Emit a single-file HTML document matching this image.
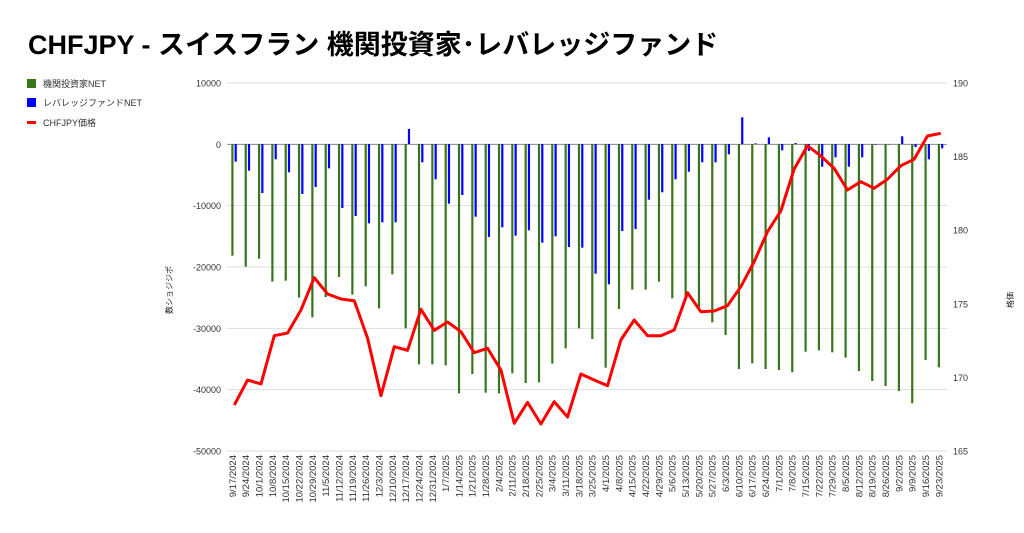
<!DOCTYPE html>
<html><head><meta charset="utf-8"><style>
body{margin:0;background:#fff;width:1024px;height:533px;overflow:hidden}
svg{display:block;font-family:"Liberation Sans","Noto Sans CJK JP",sans-serif}
</style></head><body>
<svg id="s" width="1024" height="533" xmlns="http://www.w3.org/2000/svg">
<text x="28" y="54" font-size="27" font-weight="bold" fill="#000">CHFJPY - スイスフラン 機関投資家･レバレッジファンド</text>
<rect x="27" y="79" width="9" height="9" fill="#38761d"/>
<text x="43" y="87" font-size="9" fill="#333">機関投資家NET</text>
<rect x="27" y="98" width="9" height="9" fill="#0000ff"/>
<text x="43" y="106" font-size="9" fill="#333">レバレッジファンドNET</text>
<rect x="27" y="121" width="9" height="3" fill="#ff0000"/>
<text x="43" y="126" font-size="9" fill="#333">CHFJPY価格</text>
<text transform="translate(172,290) rotate(-90)" font-size="8" text-anchor="middle" fill="#222">数ショジジポ</text>
<text transform="translate(1013,300) rotate(-90)" font-size="8" text-anchor="middle" fill="#222">格価</text>
<g id="g"></g>
</svg>
<script>
var g=document.getElementById('g'),h='';
var Y=function(z){return z/3+75};
for(var k=0;k<=6;k++){var y=83+k*61.33;h+='<line x1="227" x2="947" y1="'+y+'" y2="'+y+'" stroke="'+(k==1?'#888':'#ddd')+'" stroke-width="1"/>';
h+='<text x="221" y="'+(y+3.5)+'" font-size="9" text-anchor="end" fill="#333">'+(10000-k*10000)+'</text>';}
for(var k=0;k<=5;k++){var y=83+k*73.6;h+='<text x="953" y="'+(y+3.5)+'" font-size="9" fill="#333">'+(190-k*5)+'</text>';}
var G=[542,575,551,620,617,668,727,666,606,659,634,700,598,760,868,868,871,955,897,953,955,895,924,922,866,820,760,
792,878,702,644,644,620,670,675,696,742,780,882,865,882,885,892,830,826,832,848,888,918,933,948,985,855,877];
var B=[260,287,354,253,292,357,336,280,399,423,445,442,442,162,262,313,386,360,425,486,457,482,466,503,484,516,518,
596,628,468,462,374,352,313,290,262,262,238,127,205,187,226,204,228,275,247,275,247,209,208,184,216,253,220];
var R=[990,915,927,782,774,705,608,657,672,677,790,962,815,826,703,766,741,770,833,820,885,1045,982,1047,980,1026,897,
915,932,795,735,782,782,765,653,710,708,692,635,560,470,408,282,212,243,280,345,320,340,313,272,253,183,175];
var d=['9/17/2024','9/24/2024','10/1/2024','10/8/2024','10/15/2024','10/22/2024','10/29/2024','11/5/2024','11/12/2024','11/19/2024','11/26/2024','12/3/2024','12/10/2024','12/17/2024','12/24/2024','12/31/2024','1/7/2025','1/14/2025','1/21/2025','1/28/2025','2/4/2025','2/11/2025','2/18/2025','2/25/2025','3/4/2025','3/11/2025','3/18/2025','3/25/2025','4/1/2025','4/8/2025','4/15/2025','4/22/2025','4/29/2025','5/6/2025','5/13/2025','5/20/2025','5/27/2025','6/3/2025','6/10/2025','6/17/2025','6/24/2025','7/1/2025','7/8/2025','7/15/2025','7/22/2025','7/29/2025','8/5/2025','8/12/2025','8/19/2025','8/26/2025','9/2/2025','9/9/2025','9/16/2025','9/23/2025'];
var pts=[];
for(var i=0;i<54;i++){var x=232.3+13.33*i;
var gy=Y(G[i]);h+='<rect x="'+(x-1)+'" y="144" width="2.2" height="'+(gy-144)+'" fill="#38761d"/>';
var by=Y(B[i]);h+='<rect x="'+(x+2.3)+'" y="'+Math.min(by,144)+'" width="2.2" height="'+Math.abs(by-144)+'" fill="#0000ff"/>';
pts.push((x+2)+','+Y(R[i]).toFixed(1));
h+='<text transform="translate('+(x+3.5)+',455) rotate(-90)" font-size="9.5" text-anchor="end" fill="#333">'+d[i]+'</text>';}
h+='<polyline points="'+pts.join(' ')+'" fill="none" stroke="#ff0000" stroke-width="3" stroke-linejoin="round"/>';
g.innerHTML=h;
</script>
</body></html>
